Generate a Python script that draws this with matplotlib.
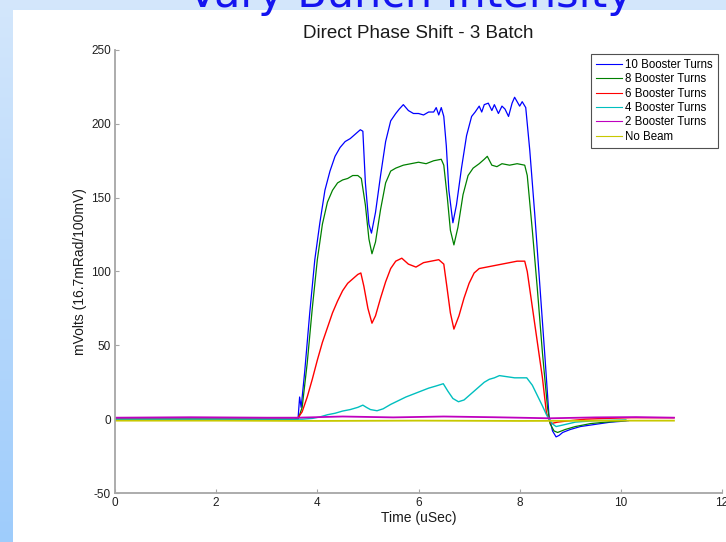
import numpy as np
import matplotlib
matplotlib.use("Agg")
import matplotlib.pyplot as plt
from matplotlib.patches import Rectangle

# ---- phase-shift traces (time in uSec, signal in mVolts) ----
t_10 = [0, 3.55, 3.62, 3.65, 3.68, 3.75, 3.85, 3.95, 4.05, 4.15, 4.25, 4.35, 4.45,
        4.55, 4.65, 4.75, 4.85, 4.9, 4.95, 5.02, 5.07, 5.15, 5.25, 5.35, 5.45, 5.55,
        5.62, 5.7, 5.8, 5.9, 6.0, 6.1, 6.2, 6.3, 6.35, 6.4, 6.45, 6.5, 6.55, 6.6,
        6.68, 6.75, 6.85, 6.95, 7.05, 7.12, 7.2, 7.25, 7.3, 7.38, 7.45, 7.5, 7.58,
        7.65, 7.71, 7.78, 7.85, 7.9, 7.95, 8.0, 8.05, 8.12, 8.2, 8.3, 8.4, 8.5,
        8.58, 8.65, 8.72, 8.78, 8.85, 9.0, 9.2, 9.4, 9.6, 9.8, 10.0, 10.15]
v_10 = [0, 0, 1, 15, 8, 32, 72, 108, 133, 155, 168, 178, 184,
        188, 190, 193, 196, 195, 160, 132, 126, 140, 165, 188, 202, 207,
        210, 213, 209, 207, 207, 206, 208, 208, 211, 206, 211, 205, 185, 155,
        133, 145, 170, 192, 205, 208, 212, 208, 213, 214, 209, 213, 207,
        212, 210, 205, 214, 218, 215, 212, 215, 211, 182, 138, 90, 42,
        2, -8, -12, -11, -9, -7, -5, -4, -3, -2, -1.5, -1]

t_8 = [0, 3.62, 3.7, 3.8, 3.9, 4.0, 4.1, 4.2, 4.3, 4.4, 4.5, 4.6, 4.7, 4.8, 4.87,
       4.95, 5.02, 5.08, 5.15, 5.25, 5.35, 5.45, 5.55, 5.7, 5.85, 6.0, 6.15, 6.3,
       6.45, 6.5, 6.57, 6.63, 6.7, 6.78, 6.88, 6.98, 7.08, 7.2, 7.3, 7.36, 7.45,
       7.55, 7.65, 7.8, 7.95, 8.1, 8.15, 8.25, 8.35, 8.45, 8.55, 8.6, 8.68, 8.75,
       8.9, 9.1, 9.4, 9.7, 10.1]
v_8 = [0, 0, 8, 38, 75, 108, 132, 147, 155, 160, 162, 163, 165, 165, 163,
       145, 122, 112, 120, 142, 160, 168, 170, 172, 173, 174, 173, 175,
       176, 172, 150, 128, 118, 130, 152, 165, 170, 173, 176, 178, 172,
       171, 173, 172, 173, 172, 165, 128, 88, 45, 8, -3, -8, -9,
       -7, -5, -3, -2, -1]

t_6 = [0, 3.62, 3.7, 3.8, 3.9, 4.0, 4.1, 4.2, 4.3, 4.4, 4.5, 4.6, 4.7, 4.8, 4.86,
       4.92, 5.0, 5.08, 5.15, 5.25, 5.35, 5.45, 5.55, 5.67, 5.8, 5.95, 6.1, 6.25,
       6.4, 6.5, 6.56, 6.63, 6.7, 6.8, 6.9, 7.0, 7.1, 7.2, 7.35, 7.5, 7.65, 7.8,
       7.95, 8.1, 8.15, 8.25, 8.35, 8.45, 8.53, 8.62, 8.75, 9.0, 9.3, 9.7, 10.2,
       10.7, 11.05]
v_6 = [1, 1, 5, 15, 27, 40, 52, 62, 72, 80, 87, 92, 95, 98, 99,
       90, 75, 65, 70, 82, 93, 102, 107, 109, 105, 103, 106, 107,
       108, 105, 90, 72, 61, 70, 82, 92, 99, 102, 103, 104, 105, 106,
       107, 107, 100, 76, 52, 28, 4, -3, -2, -1, 0, 0.5, 1,
       1, 1]

t_4 = [0, 3.7, 3.9, 4.05, 4.2, 4.35, 4.5, 4.65, 4.8, 4.9, 4.97, 5.05, 5.18, 5.3,
       5.45, 5.6, 5.75, 5.9, 6.05, 6.2, 6.35, 6.49, 6.58, 6.68, 6.79, 6.9, 7.0,
       7.1, 7.2, 7.3, 7.4, 7.5, 7.6, 7.7, 7.8, 7.9, 8.0, 8.14, 8.25, 8.35, 8.45,
       8.53, 8.58, 8.64, 8.72, 8.85, 9.1, 9.5, 10.1]
v_4 = [0, 0, 0.5, 1.5, 3, 4, 5.5, 6.5, 8, 9.5, 8, 6.5, 5.7, 7,
       10, 12.5, 15, 17, 19, 21, 22.5, 24, 19, 14, 11.8, 13, 16,
       19, 22, 25, 27, 28, 29.5, 29, 28.5, 28, 28, 28, 23, 16, 9,
       3, 0, -3, -5, -4, -2, -1, -0.5]

t_2 = [0, 1.5, 3.0, 3.6, 4.5, 5.5, 6.5, 7.5, 8.6, 9.5, 10.3, 11.05]
v_2 = [1, 1.3, 1, 1, 1.8, 1.2, 1.8, 1.3, 0.6, 1.2, 1.4, 1]

t_0 = [0, 2.0, 4.0, 6.0, 8.0, 10.0, 11.05]
v_0 = [-1, -1, -1.2, -1, -1.2, -1, -1]

labels = ["10 Booster Turns", "8 Booster Turns", "6 Booster Turns",
          "4 Booster Turns", "2 Booster Turns", "No Beam"]
colors = ["#0000ff", "#008000", "#ff0000", "#00bfbf", "#bf00bf", "#c8c800"]
widths = [0.9, 0.9, 1.0, 1.0, 1.3, 1.3]
series = [(t_10, v_10), (t_8, v_8), (t_6, v_6), (t_4, v_4), (t_2, v_2), (t_0, v_0)]

x_ticks = [0, 2, 4, 6, 8, 10, 12]
y_ticks = [-50, 0, 50, 100, 150, 200, 250]

plt.rcParams['font.family'] = ['Liberation Sans', 'DejaVu Sans']
plt.rcParams['axes.unicode_minus'] = False

W, H = 726, 542
fig = plt.figure(figsize=(W / 100, H / 100), dpi=100)

# slide background: light-blue frame with a white content area
bg = fig.add_axes([0, 0, 1, 1], zorder=-10)
grad = np.linspace(0, 1, 256)[:, None]
top_c = np.array([0.83, 0.905, 0.985])
bot_c = np.array([0.62, 0.80, 0.985])
img = top_c[None, None, :] * (1 - grad[..., None]) + bot_c[None, None, :] * grad[..., None]
img = np.repeat(img, 2, axis=1)
bg.imshow(img, extent=[0, 1, 0, 1], aspect='auto', origin='upper')
bg.add_patch(Rectangle((13 / W, 0), 1 - 13 / W, 1 - 10 / H, facecolor='white',
                       edgecolor='none'))
bg.set_xlim(0, 1)
bg.set_ylim(0, 1)
bg.axis('off')

fig.text(410 / W, 1 - 7 / H, "Vary Bunch Intensity", ha='center', va='baseline',
         fontsize=31, color='#1414f0', family=['DejaVu Sans'])

ax = fig.add_axes([115 / W, 49 / H, 607 / W, 443 / H])
ax.set_facecolor('none')

for (tt, vv), lab, col, lw in zip(series, labels, colors, widths):
    ax.plot(tt, vv, color=col, lw=lw, label=lab)

ax.set_xlim(0, 12)
ax.set_ylim(-50, 250)
ax.set_xticks(x_ticks)
ax.set_yticks(y_ticks)

gray = '#a6a6a6'
for side in ['top', 'right']:
    ax.spines[side].set_visible(False)
for side in ['left', 'bottom']:
    ax.spines[side].set_color(gray)
    ax.spines[side].set_linewidth(1.3)
ax.tick_params(direction='in', length=3, width=0.8, color=gray,
               labelsize=8.5, labelcolor='#202020', pad=3)

ax.set_title("Direct Phase Shift - 3 Batch", fontsize=13.5, color='#1a1a1a', pad=9)
ax.set_xlabel("Time (uSec)", fontsize=10, color='#1a1a1a', labelpad=1)
ax.set_ylabel("mVolts (16.7mRad/100mV)", fontsize=10, color='#1a1a1a', labelpad=3)

leg = ax.legend(loc='upper right', bbox_to_anchor=(0.9934, 0.991), borderaxespad=0,
                fontsize=8.3, handlelength=2.2, handletextpad=0.3, labelspacing=0.2,
                borderpad=0.45, fancybox=False, framealpha=1)
leg.get_frame().set_edgecolor('#505050')
leg.get_frame().set_linewidth(0.8)
for line in leg.get_lines():
    line.set_linewidth(0.8)

fig.savefig("out.png", dpi=100)
